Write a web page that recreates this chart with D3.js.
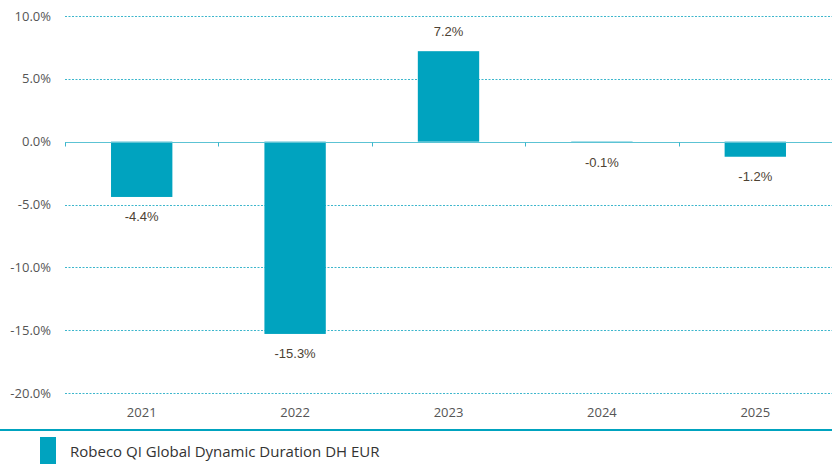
<!DOCTYPE html>
<html>
<head>
<meta charset="utf-8">
<script src="https://cdn.jsdelivr.net/npm/d3@7"></script>
<style>
  body { margin: 0; background: #fff; }
  svg { display: block; }
</style>
</head>
<body>
<div id="container"></div>
<script>
// DATA
const years = ["2021", "2022", "2023", "2024", "2025"];
const returns = [-4.4, -15.3, 7.2, -0.1, -1.2];
const yTicks = [10, 5, 0, -5, -10, -15, -20];
const seriesName = "Robeco QI Global Dynamic Duration DH EUR";

const W = 832, H = 464;
const margin = { top: 16, right: 0, bottom: 71, left: 65 };
const width = W - margin.left - margin.right;
const height = H - margin.top - margin.bottom;

const teal = "#00a3bf";

const svg = d3.select("#container")
  .append("svg")
  .attr("width", W)
  .attr("height", H);

const g = svg.append("g")
  .attr("transform", `translate(${margin.left}, ${margin.top})`);

// SCALES
const xScale = d3.scaleBand()
  .domain(years)
  .range([0, width])
  .padding(0);

const yScale = d3.scaleLinear()
  .domain([-20, 10])
  .range([height, 0]);

const barW = xScale.bandwidth() * 0.4;

// gridlines (dashed)
g.selectAll("line.grid")
  .data(yTicks.filter(d => d !== 0))
  .enter()
  .append("line")
  .attr("class", "grid")
  .attr("x1", 0)
  .attr("x2", width)
  .attr("y1", d => Math.round(yScale(d)) + 0.5)
  .attr("y2", d => Math.round(yScale(d)) + 0.5)
  .attr("stroke", "#3db6cc")
  .attr("stroke-width", 1)
  .attr("stroke-dasharray", "2,1.5");

// y tick labels
g.selectAll("text.ytick")
  .data(yTicks)
  .enter()
  .append("text")
  .attr("class", "ytick")
  .attr("x", -14)
  .attr("y", d => yScale(d))
  .attr("dy", "0.35em")
  .attr("text-anchor", "end")
  .style("font-family", "'Open Sans', 'Noto Sans', sans-serif")
  .style("font-size", "13px")
  .style("fill", "#555")
  .text(d => d.toFixed(1) + "%");

// bars
g.selectAll("rect.bar")
  .data(returns)
  .enter()
  .append("rect")
  .attr("class", "bar")
  .attr("x", (d, i) => xScale(years[i]) + (xScale.bandwidth() - barW) / 2)
  .attr("y", d => yScale(Math.max(0, d)))
  .attr("width", barW)
  .attr("height", d => Math.abs(yScale(d) - yScale(0)))
  .attr("fill", teal);

// zero axis with ticks at band edges
const zeroY = Math.round(yScale(0)) + 0.5;
g.append("line")
  .attr("x1", 0)
  .attr("x2", width)
  .attr("y1", zeroY)
  .attr("y2", zeroY)
  .attr("stroke", "#5cc3d4")
  .attr("stroke-width", 1);

g.selectAll("line.ztick")
  .data(years)
  .enter()
  .append("line")
  .attr("class", "ztick")
  .attr("x1", d => Math.round(xScale(d)) + 0.5)
  .attr("x2", d => Math.round(xScale(d)) + 0.5)
  .attr("y1", zeroY)
  .attr("y2", zeroY + 4)
  .attr("stroke", "#3db6cc");

// value labels
g.selectAll("text.val")
  .data(returns)
  .enter()
  .append("text")
  .attr("class", "val")
  .attr("x", (d, i) => xScale(years[i]) + xScale.bandwidth() / 2)
  .attr("y", d => d >= 0 ? yScale(d) - 15 : yScale(d) + 24)
  .attr("text-anchor", "middle")
  .style("font-family", "Arial, 'Liberation Sans', sans-serif")
  .style("font-size", "13px")
  .style("fill", "#4d4233")
  .text(d => d.toFixed(1) + "%");

// x axis labels
g.selectAll("text.xtick")
  .data(years)
  .enter()
  .append("text")
  .attr("class", "xtick")
  .attr("x", d => xScale(d) + xScale.bandwidth() / 2)
  .attr("y", height + 24)
  .attr("text-anchor", "middle")
  .style("font-family", "'Open Sans', 'Noto Sans', sans-serif")
  .style("font-size", "13px")
  .style("fill", "#555")
  .text(d => d);

// bottom separator line
svg.append("line")
  .attr("x1", 0)
  .attr("x2", W)
  .attr("y1", 430)
  .attr("y2", 430)
  .attr("stroke", teal)
  .attr("stroke-width", 2);

// legend
svg.append("rect")
  .attr("x", 40)
  .attr("y", 437)
  .attr("width", 16)
  .attr("height", 27)
  .attr("fill", teal);

svg.append("text")
  .attr("x", 70)
  .attr("y", 457)
  .style("font-family", "'Open Sans', 'Noto Sans', sans-serif")
  .style("font-size", "15px")
  .style("fill", "#333")
  .text(seriesName);
</script>
</body>
</html>
